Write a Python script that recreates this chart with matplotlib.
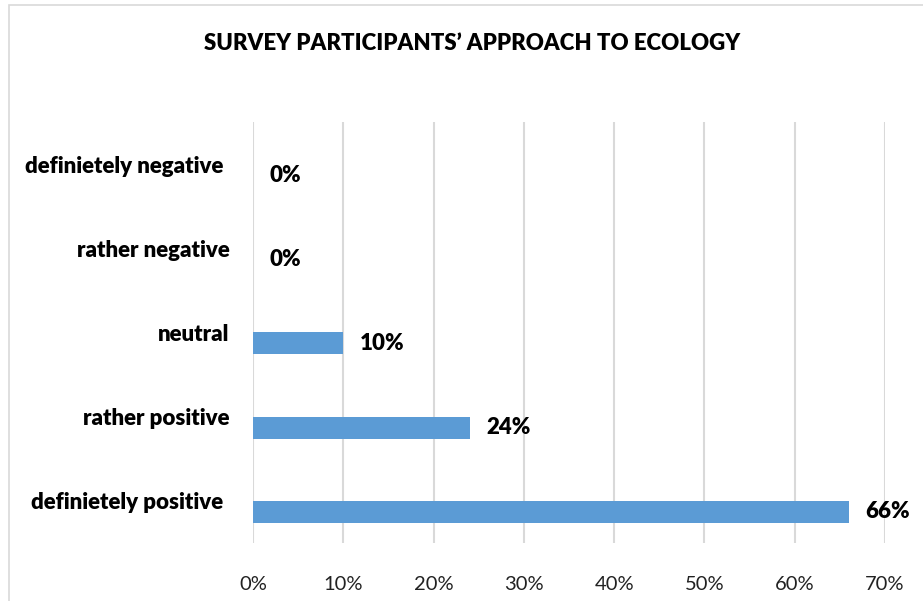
import matplotlib.pyplot as plt
from matplotlib.patches import Rectangle
from matplotlib.transforms import ScaledTranslation

categories = ["definietely positive", "rather positive", "neutral",
              "rather negative", "definietely negative"]
shares = [66, 24, 10, 0, 0]
xticks = [0, 10, 20, 30, 40, 50, 60, 70]

plt.rcParams['font.family'] = ['Lato', 'DejaVu Sans']

fig = plt.figure(figsize=(9.23, 6.01), dpi=100)
W, H = 923, 601
ax = fig.add_axes([253 / W, 1 - 543 / H, (885 - 253) / W, (543 - 122) / H])

# light frame around the whole chart
fig.patches.append(Rectangle((9 / W, -0.1), 1.2, 1 - 5 / H + 0.1, transform=fig.transFigure,
                             fill=False, edgecolor='#D9D9D9', linewidth=1.2))

pos = list(range(len(categories)))
bar_h = 0.26
ax.barh([p - bar_h / 2 for p in pos], shares, height=bar_h, color='#5B9BD5', zorder=2)

for p, v in zip(pos, shares):
    ax.annotate(f"{v}%", (v, p - bar_h / 2), xytext=(12, 0), textcoords='offset points',
                va='center', ha='left', fontsize=16, fontweight='heavy', color='black')

ax.set_xlim(0, 70)
ax.set_ylim(-0.5, 4.5)
ax.set_xticks(xticks)
ax.set_xticklabels([f"{t}%" for t in xticks], fontsize=14.5, color='#222222')
ax.set_yticks(pos)
ax.set_yticklabels(categories, fontsize=16, fontweight='heavy')
ax.tick_params(axis='both', length=0)
ax.tick_params(axis='x', pad=24)
ax.tick_params(axis='y', pad=17)
ax.grid(axis='x', color='#D9D9D9', linewidth=1.5, zorder=0)
for s in ax.spines.values():
    s.set_visible(False)

# the two long labels sit a little further left
for lbl in ax.get_yticklabels():
    if lbl.get_text().startswith("definietely"):
        lbl.set_transform(lbl.get_transform() + ScaledTranslation(-0.06, 0, fig.dpi_scale_trans))

fig.text(472 / W, 1 - 43 / H, "SURVEY PARTICIPANTS’ APPROACH TO ECOLOGY",
         ha='center', va='center', fontsize=16, fontweight='heavy')

fig.savefig('out.png', dpi=100)
